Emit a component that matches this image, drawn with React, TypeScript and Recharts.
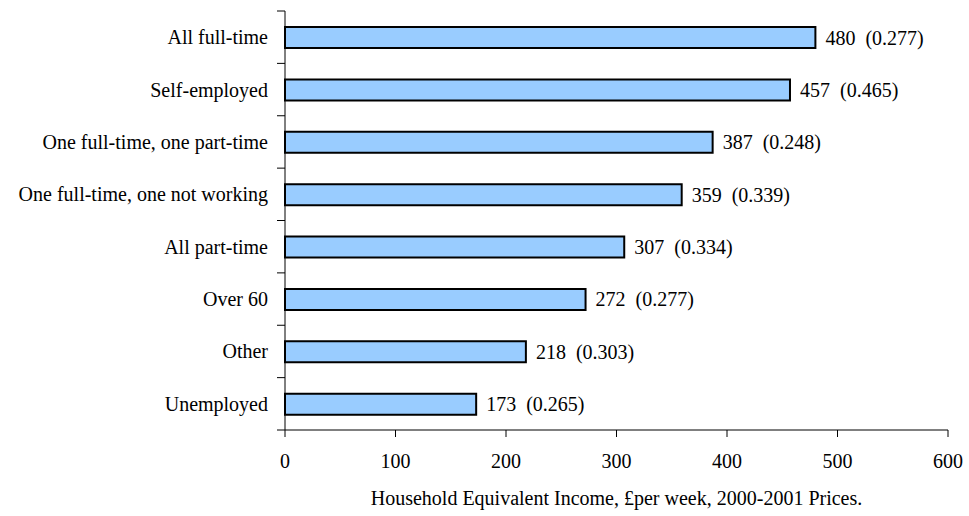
import React from "react";
import { BarChart, Bar, XAxis, YAxis, LabelList } from "recharts";

const categories = [
  "All full-time",
  "Self-employed",
  "One full-time, one part-time",
  "One full-time, one not working",
  "All part-time",
  "Over 60",
  "Other",
  "Unemployed",
];
const income = [480, 457, 387, 359, 307, 272, 218, 173];
const gini = [0.277, 0.465, 0.248, 0.339, 0.334, 0.277, 0.303, 0.265];
const xTicks = [0, 100, 200, 300, 400, 500, 600];

const data = categories.map((name, i) => ({
  name,
  value: income[i],
  label: `${income[i]}  (${gini[i].toFixed(3)})`,
}));

const FONT = "'Liberation Serif', 'Times New Roman', serif";
const W = 969;
const H = 516;
const TOP = 11;
const BOTTOM_AXIS = 86;
const PLOT_H = H - TOP - BOTTOM_AXIS;
const BAND = PLOT_H / categories.length;

function CategoryTick(props: any) {
  const { x, y, payload, index } = props;
  const top = y - BAND / 2;
  return (
    <g>
      <line x1={x} x2={x + 8} y1={top} y2={top} stroke="#000" />
      {index === categories.length - 1 && (
        <line x1={x} x2={x + 8} y1={top + BAND} y2={top + BAND} stroke="#000" />
      )}
      <text
        x={x - 9}
        y={y}
        dy="0.35em"
        textAnchor="end"
        fontFamily={FONT}
        fontSize={20}
        fill="#000"
      >
        {payload.value}
      </text>
    </g>
  );
}

function ValueLabel(props: any) {
  const { x, y, width, height, value } = props;
  return (
    <text
      x={x + width + 10}
      y={y + height / 2}
      dy="0.35em"
      fontFamily={FONT}
      fontSize={20}
      fill="#000"
      style={{ whiteSpace: "pre" }}
    >
      {value}
    </text>
  );
}

export default function App() {
  return (
    <div style={{ position: "absolute", left: 0, top: 0, background: "#fff" }}>
      <BarChart
        width={W}
        height={H}
        data={data}
        layout="vertical"
        margin={{ top: TOP, right: 21, bottom: 0, left: 0 }}
      >
        <XAxis
          type="number"
          domain={[0, 600]}
          ticks={xTicks}
          interval={0}
          height={BOTTOM_AXIS}
          tickSize={7}
          tickMargin={17}
          stroke="#000"
          tick={{ fill: "#000", fontFamily: FONT, fontSize: 20 }}
          label={{
            value: "Household Equivalent Income, £per week, 2000-2001 Prices.",
            position: "insideBottom",
            offset: 11,
            fill: "#000",
            fontFamily: FONT,
            fontSize: 20,
          }}
        />
        <YAxis
          type="category"
          dataKey="name"
          width={285}
          interval={0}
          tickLine={false}
          stroke="#000"
          tick={<CategoryTick />}
        />
        <Bar
          dataKey="value"
          fill="#99CCFF"
          stroke="#000"
          strokeWidth={2}
          barSize={21}
          isAnimationActive={false}
        >
          <LabelList dataKey="label" content={<ValueLabel />} />
        </Bar>
      </BarChart>
    </div>
  );
}
